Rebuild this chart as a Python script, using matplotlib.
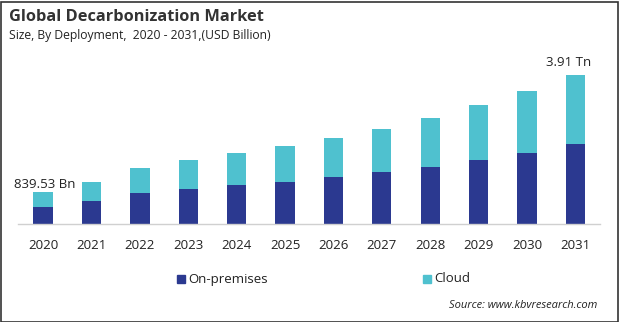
import matplotlib
matplotlib.use("Agg")
import matplotlib.pyplot as plt
from matplotlib.patches import Rectangle

years = ["2020", "2021", "2022", "2023", "2024", "2025",
         "2026", "2027", "2028", "2029", "2030", "2031"]
on_premises = [455, 605, 815, 920, 1026, 1105, 1236, 1368, 1499, 1683, 1867, 2104]
cloud = [385, 500, 658, 763, 841, 946, 1026, 1131, 1289, 1447, 1631, 1806]
first_label = "839.53 Bn"
last_label = "3.91 Tn"

navy = "#2B3990"
teal = "#4FC1CF"

plt.rcParams['font.family'] = ['Open Sans', 'DejaVu Sans']

fig = plt.figure(figsize=(6.19, 3.22), dpi=100)
ax = fig.add_axes([18/619, 1 - 224/322, (600 - 18)/619, (224 - 60)/322])

x = list(range(len(years)))
ax.bar(x, on_premises, width=0.4, color=navy, label="On-premises")
ax.bar(x, cloud, width=0.4, bottom=on_premises, color=teal, label="Cloud")

ax.set_xlim(-0.52, 11.51)
ax.set_ylim(0, 4300)
ax.set_xticks(x)
ax.set_xticklabels(years, fontsize=9.5, color="#222222")
ax.tick_params(axis='x', length=0, pad=11)
ax.set_yticks([])
for s in ["top", "right", "left"]:
    ax.spines[s].set_visible(False)
ax.spines["bottom"].set_color("#d0d0d0")
ax.spines["bottom"].set_linewidth(1)

tot0 = on_premises[0] + cloud[0]
totN = on_premises[-1] + cloud[-1]
ax.annotate(first_label, (x[0], tot0), xytext=(1, 1), textcoords="offset points",
            ha="center", va="bottom", fontsize=9.5, color="#222222")
ax.annotate(last_label, (x[-1], totN), xytext=(-5, 4), textcoords="offset points",
            ha="center", va="bottom", fontsize=9.5, color="#222222")

fig.text(9/619, 1 - 17/322, "Global Decarbonization Market", fontsize=11.8,
         fontweight="bold", color="#333333", va="center", ha="left")
fig.text(9/619, 1 - 35/322, "Size, By Deployment,  2020 - 2031,(USD Billion)",
         fontsize=8.7, color="#222222", va="center", ha="left")

# legend
fig.patches.append(Rectangle((177/619, 1 - 283/322), 8/619, 8/322,
                             transform=fig.transFigure, color=navy))
fig.text(188/619, 1 - 279/322, "On-premises", fontsize=9.5, color="#222222",
         va="center", ha="left")
fig.patches.append(Rectangle((423/619, 1 - 283/322), 8/619, 8/322,
                             transform=fig.transFigure, color=teal))
fig.text(434/619, 1 - 279/322, "Cloud", fontsize=9.5, color="#222222",
         va="center", ha="left")

fig.text(597/619, 1 - 305/322, "Source: www.kbvresearch.com", fontsize=8,
         style="italic", color="#222222", va="center", ha="right")

fig.patches.append(Rectangle((0.5/619, 0.5/322), 617/619, 320/322,
                             transform=fig.transFigure, fill=False,
                             edgecolor="#333333", linewidth=1.2))

fig.savefig("out.png", dpi=100)
